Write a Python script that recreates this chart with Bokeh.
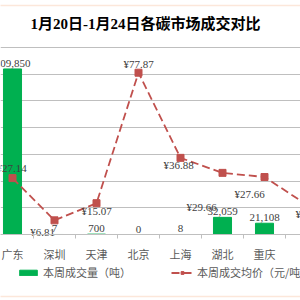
from bokeh.plotting import figure
from bokeh.models import (Range1d, FixedTicker, Grid, Legend, LegendItem, Label,
                          ColumnDataSource, BoxAnnotation)
from bokeh.core.properties import value
from bokeh.embed import file_html
from bokeh.resources import INLINE

# ---- data ----
markets = ["广东", "深圳", "天津", "北京", "上海", "湖北", "重庆", "福建"]
volume = [309850, 7, 700, 0, 8, 32059, 21108, 0]
price = [27.14, 6.81, 15.07, 77.87, 36.88, 29.66, 27.66, 14.40]
vol_ticks = [0, 50000, 100000, 150000, 200000, 250000, 300000, 350000]
vol_max, price_max = 350000, 90
title_text = "1月20日-1月24日各碳市场成交对比"

# ---- layout (pixels) ----
W, H = 300, 300
PX_AXIS_TOP = 47      # where the value-axis maximum sits
PX_BASE = 234         # where zero sits
CAT_W = 42            # width of one category
FIRST_CAT_PX = 12     # centre of the first category
price_dx = [-1, -12, 0, 0, -2, -21, -15, 4]
price_dy = [-10, 12, 8, -9, 7, 34, 17, 9]

k_vol = vol_max / (PX_BASE - PX_AXIS_TOP)
k_price = price_max / (PX_BASE - PX_AXIS_TOP)

idx = list(range(len(markets)))
src = ColumnDataSource(dict(
    x=idx, vol=volume, price=price,
    vol_txt=[f"{v:,}" for v in volume],
    price_txt=[f"¥{p:.2f}" for p in price],
    dx=price_dx, dy=price_dy,
    bar_line=[1 if v > 0 else 0 for v in volume],
))

GREEN = "#00B050"
RED = "#C0504D"
CJK = "Noto Sans CJK SC"
SERIF = "Liberation Serif"

p = figure(width=W, height=H, output_backend="svg", toolbar_location=None,
           x_range=Range1d(-FIRST_CAT_PX / CAT_W, (W - FIRST_CAT_PX) / CAT_W),
           y_range=Range1d(-(H - PX_BASE) * k_vol, PX_BASE * k_vol),
           y_axis_location=None, min_border=0)
p.title = None
p.extra_y_ranges = {"price": Range1d(-(H - PX_BASE) * k_price, PX_BASE * k_price)}
p.outline_line_color = None
p.background_fill_color = "white"
p.border_fill_color = "white"
for g in p.grid:
    g.visible = False
p.add_layout(Grid(dimension=1, ticker=FixedTicker(ticks=vol_ticks),
                  grid_line_color="#BFBFBF", grid_line_width=1))

# x axis, pinned at zero
ax = p.xaxis[0]
ax.fixed_location = 0
ax.ticker = FixedTicker(ticks=idx, minor_ticks=[i - 0.5 for i in range(len(markets) + 1)])
ax.major_label_overrides = {i: m for i, m in enumerate(markets)}
ax.major_tick_line_color = None
ax.major_tick_out = 0
ax.major_tick_in = 0
ax.minor_tick_line_color = "#BFBFBF"
ax.minor_tick_out = 4
ax.minor_tick_in = 0
ax.axis_line_color = "#BFBFBF"
ax.major_label_text_font = CJK
ax.major_label_text_font_size = "11px"
ax.major_label_text_color = "#595959"
ax.major_label_standoff = 7

# bars
bars = p.vbar(x="x", top="vol", bottom=0, width=0.43, source=src, fill_color=GREEN,
              line_color=GREEN, line_alpha="bar_line", line_width=1)
p.text(x="x", y="vol", text="vol_txt", source=src, text_align="center",
       text_baseline="bottom", y_offset=-2, text_font=value(SERIF),
       text_font_size="11px", text_color="#404040")

# price line
line = p.line(x="x", y="price", source=src, y_range_name="price", line_color=RED,
              line_width=1.8, line_dash="8 4")
pts = p.scatter(x="x", y="price", source=src, y_range_name="price", marker="square",
                size=7, fill_color=RED, line_color=RED)
p.text(x="x", y="price", text="price_txt", source=src, y_range_name="price",
       x_offset="dx", y_offset="dy", text_align="center", text_baseline="middle",
       text_font=value(SERIF), text_font_size="11px", text_color="#404040")

# title
p.add_layout(Label(x=145, y=H - 23, x_units="screen", y_units="screen", text=title_text,
                   text_align="center", text_baseline="middle",
                   text_font=f"{SERIF}, {CJK}", text_font_size="15px",
                   text_font_style="bold", text_color="#000000"))

# legend
legend = Legend(items=[LegendItem(label=value("本周成交量（吨）"), renderers=[bars]),
                       LegendItem(label=value("本周成交均价（元/吨）"), renderers=[line, pts])],
                orientation="horizontal", location=(17, H - 280),
                glyph_width=22, glyph_height=7, label_height=14, label_standoff=4,
                spacing=40, padding=0, margin=0,
                label_text_font=CJK, label_text_font_size="11px",
                label_text_color="#595959", border_line_color=None,
                background_fill_alpha=0)
p.add_layout(legend)

# outer chart border
p.add_layout(BoxAnnotation(left=-5, right=W + 5, top=5, bottom=296,
                           left_units="canvas", right_units="canvas",
                           top_units="canvas", bottom_units="canvas",
                           fill_alpha=0, line_color="#F4B183", line_width=1.5))

open("out.html", "w").write(file_html(p, INLINE))
